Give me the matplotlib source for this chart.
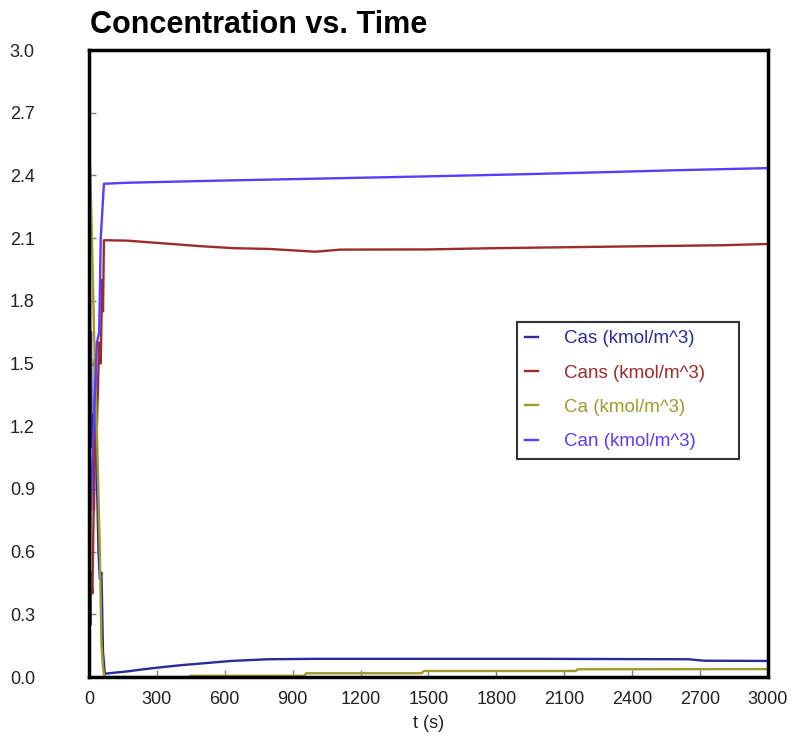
import matplotlib
matplotlib.use("Agg")
import matplotlib.pyplot as plt

plt.rcParams['font.family'] = ['Liberation Sans', 'DejaVu Sans']

# ---- data ----
t_cas = [0, 2, 4, 6, 9, 12, 16, 22, 26, 30, 36, 42, 48, 55, 62, 70,
         170, 240, 320, 410, 520, 630, 790, 1000, 1500, 2000, 2650, 2720, 3000]
cas = [2.2, 1.7, 2.05, 1.45, 1.65, 1.1, 1.25, 0.8, 1.52, 1.37, 0.9, 0.6, 0.47, 0.5, 0.12, 0.016,
       0.027, 0.037, 0.047, 0.057, 0.067, 0.077, 0.085, 0.087, 0.087, 0.087, 0.085, 0.078, 0.077]

t_cans = [0, 3, 6, 9, 15, 20, 30, 35, 45, 52, 58, 62, 66,
          170, 265, 390, 485, 637, 800, 1000, 1110, 1500, 1800, 2360, 2800, 3000]
cans = [0.0, 0.45, 0.25, 0.5, 0.4, 0.75, 1.3, 1.2, 1.6, 1.5, 1.9, 1.75, 2.09,
        2.088, 2.080, 2.070, 2.062, 2.052, 2.048, 2.035, 2.045, 2.046, 2.052, 2.060, 2.066, 2.072]

t_ca = [0, 5, 13, 18, 22, 35, 48, 55, 62, 68,
        440, 450, 950, 960, 1470, 1480, 2150, 2160, 3000]
ca = [2.5, 2.45, 2.1, 1.87, 1.66, 1.18, 0.6, 0.16, 0.05, 0.0,
      0.0, 0.006, 0.006, 0.018, 0.018, 0.029, 0.029, 0.037, 0.038]

t_can = [0, 3, 8, 20, 35, 45, 52, 60, 66, 170, 570, 1025, 1475, 1890, 2260, 2600, 3000]
can = [0.0, 0.3, 0.85, 1.17, 1.6, 1.65, 2.1, 2.25, 2.36, 2.365, 2.375, 2.385, 2.395, 2.405,
       2.415, 2.425, 2.435]

series_labels = ["Cas (kmol/m^3)", "Cans (kmol/m^3)", "Ca (kmol/m^3)", "Can (kmol/m^3)"]
colors = ["#2b2b9c", "#9c2b2b", "#9c9c2b", "#5a3cff"]

x_ticks = list(range(0, 3001, 300))
y_ticks = [0.0, 0.3, 0.6, 0.9, 1.2, 1.5, 1.8, 2.1, 2.4, 2.7, 3.0]

# ---- figure ----
fig = plt.figure(figsize=(8.03, 7.4), dpi=100)
ax = fig.add_axes([0.1108, 0.0851, 0.8456, 0.8473])

for tx, yv, lab, c in zip([t_cas, t_cans, t_ca, t_can], [cas, cans, ca, can], series_labels, colors):
    ax.plot(tx, yv, color=c, lw=1.7, label=lab)

ax.set_xlim(0, 3000)
ax.set_ylim(0, 3.0)
ax.set_xticks(x_ticks)
ax.set_xticklabels([str(v) for v in x_ticks])
ax.set_yticks(y_ticks)
ax.set_yticklabels([f"{v:.1f}" for v in y_ticks])
ax.tick_params(axis='both', direction='in', length=5, width=1, color='#808080',
               labelsize=13, labelcolor='#222222')
ax.tick_params(axis='y', pad=57)
ax.tick_params(axis='x', pad=10)
for lbl in ax.get_yticklabels():
    lbl.set_horizontalalignment('left')
for s in ax.spines.values():
    s.set_linewidth(2.5)
    s.set_color('black')

ax.set_xlabel("t (s)", fontsize=13, color='#222222', labelpad=5)
fig.text(0.112, 0.966, "Concentration vs. Time", fontsize=22, fontweight='bold',
         ha='left', va='center')

leg = ax.legend(loc='lower left', bbox_to_anchor=(0.630, 0.348, 0.328, 0.2185), mode='expand',
                fontsize=13.5, handlelength=0.7, handletextpad=1.35, labelspacing=0.92,
                borderpad=0.45, frameon=True, fancybox=False, labelcolor='linecolor',
                borderaxespad=0)
leg.get_frame().set_edgecolor('black')
leg.get_frame().set_linewidth(1.5)

fig.savefig("out.png", dpi=100)
